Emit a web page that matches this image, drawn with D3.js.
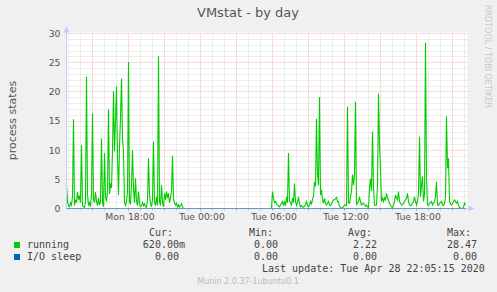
<!DOCTYPE html>
<html>
<head>
<meta charset="utf-8">
<script src="https://cdn.jsdelivr.net/npm/d3@7"></script>
<style>
  body { margin: 0; background: #f0f0f0; }
  svg { display: block; }
</style>
</head>
<body>
<svg width="497" height="292"></svg>
<script>
// 5 minute samples, first one Mon 2020-04-27 12:50, last one Tue 22:05
var sampleStart = Date.UTC(2020, 3, 27, 12, 50);
var sampleStep = 5 * 60 * 1000;

// process states "running"
var running = [
    4, 1.2, 0.4, 0.3, 1, 0.6, 2, 15.3, 0.5, 1.5,
    1, 2.8, 1.5, 2.2, 1, 10.9, 0.5, 0.3, 0.2, 1.2,
    22.6, 2.5, 0.5, 1, 0.3, 2.5, 16.3, 1.5, 1, 2.8,
    1.2, 0.5, 1.8, 0.6, 1.2, 12, 1, 0.3, 9.5, 2,
    1.2, 3, 17, 2.5, 4.3, 3.5, 10, 20.1, 9.8, 15,
    20.9, 9, 2.3, 10.6, 15.5, 22.3, 12, 9.8, 1, 0.5,
    1.2, 3, 25.1, 1, 0.8, 4, 10, 3.5, 1, 5.2,
    1.2, 0.5, 2.9, 0.8, 0.3, 0.5, 1, 0.5, 0.8, 0.3,
    0.2, 1.5, 8.6, 2.3, 1, 0.3, 1.5, 11.5, 1, 0.5,
    2, 0.5, 26.1, 1.2, 0.5, 4, 1, 0.3, 2.6, 1.5,
    2.9, 1.8, 2.6, 1, 1.8, 3, 9, 1.5, 0.9, 0.6,
    0.9, 0.3, 0.6, 0.2, 0.5, 0.8, 0.3,
    // quiet night
    0, 0, 0, 0, 0, 0, 0, 0, 0, 0, 0, 0, 0, 0, 0, 0, 0, 0, 0, 0,
    0, 0, 0, 0, 0, 0, 0, 0, 0, 0, 0, 0, 0, 0, 0, 0, 0, 0, 0, 0,
    0, 0, 0, 0, 0, 0, 0, 0, 0, 0, 0, 0, 0, 0, 0, 0, 0, 0, 0, 0,
    0, 0, 0, 0, 0, 0, 0, 0, 0, 0, 0, 0, 0, 0, 0, 0, 0, 0, 0, 0,
    0, 0, 0, 0, 0, 0, 0, 0, 0,
    2.9, 1.8, 1, 1.2, 0.8, 0.6, 0.5, 0.3, 0.6, 0.9, 1.2, 0.5,
    1.2, 0.5, 2, 1, 9.5, 1.3, 1, 0.5, 1.8, 1, 4.3, 1.2,
    0.5, 1, 2, 0.9, 0.3, 0.5, 0.3, 0.2, 0.4, 0.7,
    1.2, 0.5, 0.3, 0.6, 1.2, 0.8, 1.5, 2.1, 4.6, 3.8,
    15.4, 5.8, 4, 19.1, 2.3, 3.2, 1.5, 0.9, 1.8, 0.8,
    0.6, 0.9, 1.2, 0.6, 0.5, 0.8, 1.2, 1.5, 1.5, 1.7,
    1.9, 1.2, 1.2, 0.3, 0.2, 0, 0.2, 0.3, 0.6, 0.6,
    0.5, 17.5, 0.9, 0.9, 2, 3, 5.8, 4, 5.8, 18.3,
    0.6, 1, 1.2, 2, 1.2, 0.6, 0.8, 0.9, 0.6, 0.4,
    0.6, 0.3, 0.1, 3.5, 5.1, 3, 13.2, 3.5, 0.6, 0.5,
    0.6, 4, 19.7, 10.9, 6.9, 1.2, 1.8, 1.2, 1.8, 1.5,
    2.6, 1.8, 1.5, 0.8, 0.6, 0.3, 0.1, 0.6, 1.2, 2.3,
    1.8, 1.5, 2.9, 1.2, 0.9, 0.6, 0.6, 0.9, 1.2, 1.5,
    1.8, 2.6, 1.2, 0.6, 0.5, 0.6, 0.9, 1.2, 2, 1.2,
    0.6, 1.2, 2.5, 12.3, 2, 4, 5.5, 1.2, 2.5, 28.47,
    5.2, 0.6, 0.5, 0.9, 1, 1.2, 0.6, 0.9, 1.2, 2,
    4.6, 0.6, 0.5, 0.9, 1, 1.2, 0.6, 0.5, 0.9, 2,
    15.8, 6.9, 8.6, 1.2, 0.8, 0.6, 0.9, 1.2, 1.5, 1.2,
    0.9, 1.2, 0.5, 0.1, 0.1, 0, 0, 0.2, 0.9, 0.62
];

// I/O sleep stays at zero the whole day: [sample index, value]
var ioSleep = [[0, 0], [399, 0]];

var yTicks = [0, 5, 10, 15, 20, 25, 30];

var legendNames = ["running", "I/O sleep"];
var legendColors = ["#00cc00", "#0066b3"];
var legendCur = ["620.00m", "0.00"];
var legendMin = ["0.00", "0.00"];
var legendAvg = ["2.22", "0.00"];
var legendMax = ["28.47", "0.00"];

var svg = d3.select("svg");
var plotLeft = 66.5, plotRight = 466.5, plotTop = 33.5, plotBottom = 208.5;

var x = d3.scaleUtc()
    .domain([sampleStart, sampleStart + 400 * sampleStep])
    .range([plotLeft, plotRight]);
var y = d3.scaleLinear().domain([0, 30]).range([plotBottom, plotTop]);

function t(i) { return sampleStart + i * sampleStep; }
function crisp(v) { return Math.round(v - 0.5) + 0.5; }

svg.append("rect")
    .attr("width", 497).attr("height", 292)
    .attr("fill", "#f0f0f0");

// plot canvas
svg.append("rect")
    .attr("x", plotLeft).attr("y", plotTop - 1)
    .attr("width", plotRight - plotLeft + 1).attr("height", plotBottom - plotTop + 1)
    .attr("fill", "#fff");

var grid = svg.append("g").attr("fill", "none").attr("stroke-dasharray", "1,1");
var minorColor = "#dcdcdc", majorColor = "#f7b4b4";

// horizontal grid, minor every 1, major every 5
d3.range(1, 31).forEach(function (v) {
    var yy = crisp(y(v));
    grid.append("line")
        .attr("x1", plotLeft).attr("x2", plotRight + 1)
        .attr("y1", yy).attr("y2", yy)
        .attr("stroke", v % 5 == 0 ? majorColor : minorColor);
});

// vertical grid, minor every hour, major every 3 hours
var hours = d3.utcHour.range(new Date(x.domain()[0]), new Date(x.domain()[1]));
hours.forEach(function (h) {
    var xx = crisp(x(h));
    var major = h.getUTCHours() % 3 == 0;
    grid.append("line")
        .attr("x1", xx).attr("x2", xx)
        .attr("y1", plotTop).attr("y2", plotBottom)
        .attr("stroke", major ? majorColor : minorColor);
    svg.append("line")
        .attr("x1", xx).attr("x2", xx)
        .attr("y1", plotBottom).attr("y2", plotBottom + 2)
        .attr("stroke", major ? "#f08080" : "#c8c8c8");
});

// running
var line = d3.line()
    .x(function (d, i) { return x(t(i)); })
    .y(function (d) { return y(d); });

svg.append("path")
    .datum(running)
    .attr("fill", "none")
    .attr("stroke", "#00cc00")
    .attr("stroke-width", 1.1)
    .attr("d", line);

// axes lines with arrows
var axisColor = "#c6cbf4";
svg.append("line")
    .attr("x1", plotLeft).attr("x2", plotLeft)
    .attr("y1", plotBottom).attr("y2", 30)
    .attr("stroke", axisColor);
svg.append("line")
    .attr("x1", plotLeft).attr("x2", 470)
    .attr("y1", plotBottom).attr("y2", plotBottom)
    .attr("stroke", axisColor);
svg.append("path")
    .attr("d", "M63.5,32.5L69.5,32.5L66.5,26.5Z")
    .attr("fill", axisColor);
svg.append("path")
    .attr("d", "M468.5,205.5L468.5,211.5L474.5,208.5Z")
    .attr("fill", axisColor);

// I/O sleep
svg.append("path")
    .datum(ioSleep)
    .attr("fill", "none")
    .attr("stroke", "#0066b3")
    .attr("stroke-opacity", 0.5)
    .attr("d", d3.line()
        .x(function (d) { return x(t(d[0])); })
        .y(function (d) { return y(d[1]); }));

// tick labels
var yAxis = svg.append("g")
    .attr("transform", "translate(" + plotLeft + ",0)")
    .call(d3.axisLeft(y).tickValues(yTicks).tickSize(0).tickPadding(6));
yAxis.select(".domain").remove();
yAxis.selectAll("text")
    .attr("font-family", "DejaVu Sans")
    .attr("font-size", "9.3px")
    .attr("fill", "#555");

var labelHours = hours.filter(function (h) { return h.getUTCHours() % 6 == 0; });
var xAxis = svg.append("g")
    .attr("transform", "translate(0," + plotBottom + ")")
    .call(d3.axisBottom(x).tickValues(labelHours).tickSize(0).tickPadding(5)
        .tickFormat(d3.utcFormat("%a %H:%M")));
xAxis.select(".domain").remove();
xAxis.selectAll("text")
    .attr("dx", 1)
    .attr("font-family", "DejaVu Sans")
    .attr("font-size", "9.3px")
    .attr("fill", "#555");

// title and side texts
svg.append("text")
    .attr("x", 248).attr("y", 17)
    .attr("text-anchor", "middle")
    .attr("font-family", "DejaVu Sans")
    .attr("font-size", "13px")
    .attr("fill", "#555")
    .text("VMstat - by day");

svg.append("text")
    .attr("transform", "translate(15.5,120.5) rotate(-90)")
    .attr("text-anchor", "middle")
    .attr("font-family", "DejaVu Sans")
    .attr("font-size", "11px")
    .attr("fill", "#555")
    .text("process states");

svg.append("text")
    .attr("transform", "translate(485,5) rotate(90)")
    .attr("font-family", "DejaVu Sans")
    .attr("font-size", "8px")
    .attr("fill", "#c8c8c8")
    .text("RRDTOOL / TOBI OETIKER");

// legend
var mono = function (sel) {
    return sel.attr("font-family", "DejaVu Sans Mono")
        .attr("font-size", "10px")
        .attr("fill", "#444");
};

[["Cur:", 149], ["Min:", 249], ["Avg:", 348], ["Max:", 447]].forEach(function (h) {
    svg.append("text").attr("x", h[1]).attr("y", 236).call(mono).text(h[0]);
});

legendNames.forEach(function (name, i) {
    var base = 248 + i * 12;
    svg.append("rect")
        .attr("x", 14).attr("y", base - 6)
        .attr("width", 6).attr("height", 6)
        .attr("fill", legendColors[i]);
    svg.append("text").attr("x", 27).attr("y", base).call(mono).text(name);
    // cur column keeps a slot for the unit suffix
    var cur = legendCur[i];
    var hasUnit = /[a-zA-Z]$/.test(cur);
    svg.append("text").attr("x", hasUnit ? 185 : 179).attr("y", base)
        .attr("text-anchor", "end").call(mono).text(cur);
    svg.append("text").attr("x", 278).attr("y", base)
        .attr("text-anchor", "end").call(mono).text(legendMin[i]);
    svg.append("text").attr("x", 377).attr("y", base)
        .attr("text-anchor", "end").call(mono).text(legendAvg[i]);
    svg.append("text").attr("x", 477).attr("y", base)
        .attr("text-anchor", "end").call(mono).text(legendMax[i]);
});

svg.append("text").attr("x", 262).attr("y", 272).call(mono)
    .text("Last update: Tue Apr 28 22:05:15 2020");

svg.append("text")
    .attr("x", 248).attr("y", 284)
    .attr("text-anchor", "middle")
    .attr("font-family", "DejaVu Sans")
    .attr("font-size", "8px")
    .attr("fill", "#bbb")
    .text("Munin 2.0.37-1ubuntu0.1");
</script>
</body>
</html>
